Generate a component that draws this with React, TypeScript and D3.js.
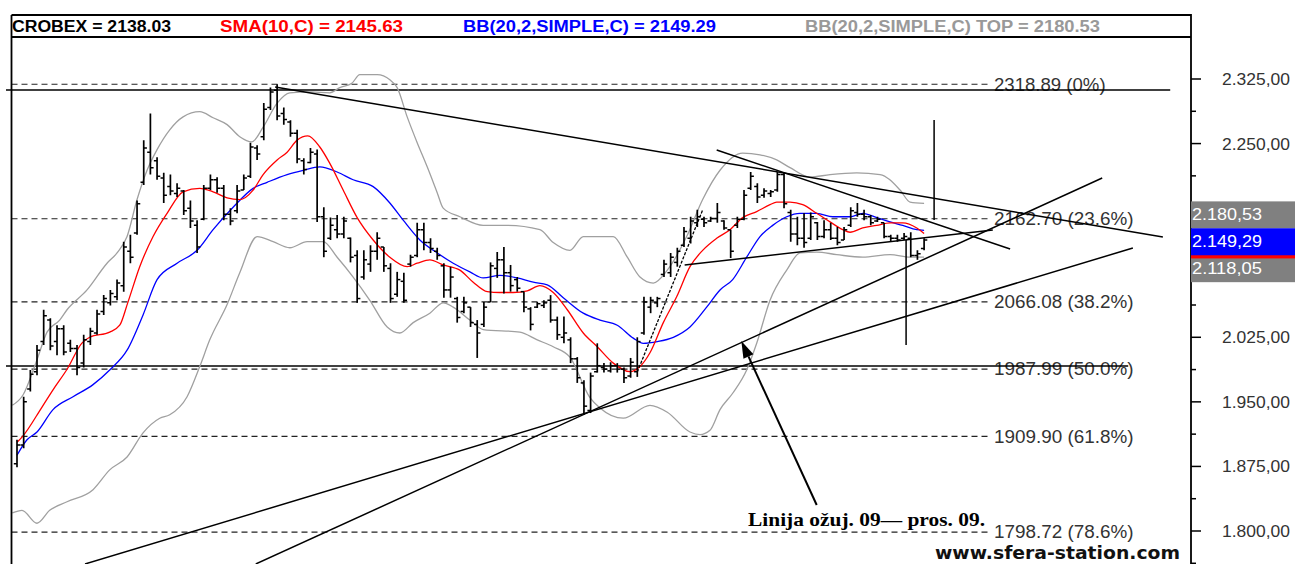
import React from 'react';
import * as d3 from 'd3';

const W = 1295;
const H = 564;

// ---------- OHLC bars (CROBEX) ----------
const barOpen = [
  1878,1900,1965,1985,2020,2045,2020,2035,2018,2012,
  1995,2020,2030,2055,2065,2072,2085,2125,2146,2205,
  2240,2230,2210,2200,2192,2195,2175,2155,2162,2198,
  2208,2198,2168,2172,2196,2212,2245,2258,2292,2312,
  2285,2275,2262,2230,2228,2238,2165,2140,2150,2145,
  2140,2120,2095,2110,2125,2130,2105,2075,2090,2110,
  2120,2150,2135,2125,2108,2080,2070,2055,2060,2040,
  2040,2066,2105,2115,2100,2092,2078,2058,2060,2062,
  2068,2045,2025,2022,2000,1972,1940,1985,1990,1986,
  1992,1988,1980,1985,2030,2060,2065,2098,2100,2112,
  2132,2140,2158,2162,2160,2163,2160,2150,2155,2162,
  2198,2200,2190,2192,2196,2214,2170,2145,2140,2140,
  2158,2142,2150,2140,2138,2155,2170,2168,2165,2160,
  2158,2142,2140,2140,2140,2120,2128,
];
const barHigh = [
  1906,1956,1987,2016,2057,2047,2039,2039,2022,2016,
  2028,2036,2057,2074,2080,2092,2136,2144,2184,2254,
  2285,2234,2216,2214,2204,2196,2184,2161,2202,2214,
  2211,2202,2175,2202,2214,2251,2248,2297,2315,2319,
  2292,2277,2266,2233,2245,2243,2176,2164,2167,2165,
  2141,2126,2126,2132,2147,2130,2111,2101,2100,2121,
  2158,2158,2140,2129,2111,2107,2072,2072,2060,2045,
  2066,2112,2124,2130,2109,2095,2078,2060,2066,2068,
  2074,2049,2049,2025,2002,1975,1984,2018,1995,1996,
  1995,1990,2001,2025,2072,2072,2072,2115,2123,2129,
  2153,2165,2173,2165,2165,2181,2161,2150,2165,2196,
  2217,2204,2198,2196,2217,2216,2173,2165,2169,2170,
  2159,2161,2158,2153,2153,2176,2181,2173,2167,2165,
  2158,2144,2144,2146,2147,2126,2140,
];
const barLow = [
  1874,1896,1962,1981,2016,2010,2004,2004,2008,1981,
  1990,2016,2028,2051,2062,2068,2078,2111,2144,2202,
  2214,2208,2181,2190,2188,2167,2152,2123,2161,2196,
  2193,2161,2155,2169,2196,2210,2231,2254,2289,2277,
  2272,2258,2227,2214,2227,2159,2118,2138,2140,2140,
  2112,2065,2092,2101,2115,2101,2065,2072,2065,2107,
  2118,2126,2123,2115,2071,2071,2042,2053,2037,2001,
  2037,2066,2094,2076,2078,2078,2054,2033,2059,2059,
  2042,2022,2018,1995,1972,1935,1937,1984,1984,1984,
  1984,1972,1978,1979,2028,2053,2060,2095,2095,2107,
  2130,2134,2153,2153,2159,2158,2150,2117,2152,2161,
  2196,2181,2187,2188,2194,2175,2136,2132,2129,2138,
  2138,2140,2138,2132,2138,2153,2165,2161,2155,2159,
  2140,2136,2136,2138,2118,2115,2126,
];
const barClose = [
  1900,1950,1982,2010,2050,2015,2035,2008,2012,1990,
  2022,2032,2052,2070,2076,2088,2130,2118,2180,2245,
  2222,2212,2190,2195,2198,2172,2160,2130,2198,2208,
  2198,2168,2160,2195,2210,2246,2238,2290,2310,2282,
  2278,2262,2232,2220,2240,2165,2125,2155,2145,2160,
  2118,2070,2115,2125,2140,2108,2070,2092,2068,2118,
  2150,2135,2128,2120,2080,2095,2048,2065,2042,2030,
  2060,2108,2115,2100,2085,2082,2060,2040,2064,2065,
  2045,2028,2030,2000,1978,1945,1980,1992,1988,1992,
  1988,1978,1996,2020,2066,2068,2070,2110,2118,2125,
  2148,2160,2165,2158,2163,2170,2152,2125,2162,2190,
  2212,2188,2195,2194,2214,2180,2145,2140,2135,2165,
  2142,2150,2140,2135,2150,2172,2168,2165,2158,2162,
  2142,2140,2138,2142,2120,2122,2138.03,
];

// ---------- indicator lines: [bar index, value] ----------
const sma10Pts: [number, number][] = [
  [0,1903],[0.75,1909],[3.75,1944],[5.4,1964],[7.6,1989],[9.7,2018],[10.9,2025],[13.9,2031],
  [15.4,2039],[16.6,2065],[18.4,2107],[20.4,2142],[22.5,2169],[24.9,2194],[27.4,2198],[29.4,2194],
  [31.5,2187],[33.4,2185],[35.4,2196],[36.9,2214],[39,2231],[40.5,2240],[42,2254],[43.6,2259],
  [45.4,2246],[46.9,2227],[48.9,2196],[51,2164],[53.4,2138],[55.9,2118],[58.5,2107],[60,2111],
  [61.9,2115],[63.9,2109],[66.4,2103],[68.4,2089],[70.5,2078],[72.4,2077],[74.4,2077],[76.5,2079],
  [78.4,2085],[80.4,2077],[82.5,2057],[84.9,2030],[87,2014],[89.4,1995],[91.9,1985],[93.4,1991],
  [94.9,2007],[96.9,2042],[98.9,2072],[100.9,2107],[102.8,2126],[104.9,2140],[106.9,2150],
  [108.8,2164],[110.9,2171],[112.9,2179],[113.9,2182],[115.9,2182],[117.8,2179],[119.9,2169],
  [121.9,2159],[123.8,2150],[124.9,2147],[126.8,2152],[128.9,2155],[130.9,2158],[132.8,2158],
  [134.9,2152],[136,2145.63],
];
const bbMidPts: [number, number][] = [
  [0,1888],[1.5,1906],[3,1915],[5.4,1941],[8.4,1956],[11.4,1970],[13.9,1987],[16.5,2010],
  [18.9,2051],[21,2092],[24,2111],[27,2126],[29.4,2150],[32.4,2176],[35.4,2198],[37.5,2205],
  [40.5,2214],[42.9,2219],[45.4,2223],[48,2217],[50.4,2208],[53.4,2200],[55.9,2181],[57.9,2161],
  [60.4,2138],[63,2123],[65.4,2111],[67.9,2101],[69.9,2094],[72.4,2097],[75,2094],[77.4,2089],
  [79.5,2086],[81.9,2071],[84.9,2053],[87.4,2045],[90,2039],[92.4,2024],[93.9,2018],[96,2020],
  [98.4,2025],[100.9,2037],[103.4,2060],[105.4,2080],[107.3,2092],[109.4,2118],[111.4,2142],
  [113.3,2155],[115.4,2165],[117.4,2169],[119.9,2169],[122.3,2165],[124.9,2165],[126.8,2169],
  [128.9,2164],[130.9,2159],[132.8,2155],[134.9,2150],[136,2149.29],
];
const bbTopPts: [number, number][] = [
  [-0.7,1946],[0.9,1958],[3,1999],[4.5,2031],[6.4,2045],[7.5,2057],[10.5,2080],[13.5,2111],
  [15,2123],[16.5,2142],[18,2185],[19.5,2219],[21,2243],[22.9,2266],[24.9,2281],[27.4,2287],
  [29.4,2280],[31.5,2272],[33.4,2258],[35.2,2252],[36.9,2269],[39,2297],[40.9,2309],[43.9,2310],
  [46.9,2309],[48.4,2315],[50.2,2320],[51.4,2330],[54,2330],[55.9,2324],[57,2315],[58.5,2281],
  [60,2251],[61.5,2223],[63,2193],[63.9,2175],[66.4,2165],[69.9,2155],[73.5,2155],[78.4,2150],
  [80.4,2135],[82.9,2126],[84.9,2142],[89.4,2142],[91.5,2118],[93.4,2095],[95.4,2088],[97.5,2103],
  [100.4,2142],[102.8,2185],[105.4,2219],[108.8,2239],[111.4,2237],[113.9,2231],[115.9,2222],
  [118.9,2211],[121.9,2214],[125.9,2216],[129.4,2214],[132.4,2196],[133.9,2182],[136,2180.53],
];
const bbBotPts: [number, number][] = [
  [-0.7,1821],[0.75,1824],[3,1809],[4.9,1824],[7.5,1834],[11.4,1848],[13.9,1871],[16.5,1886],
  [18.9,1914],[21.4,1931],[22.9,1935],[25.5,1956],[27.4,1991],[28.9,2022],[31.5,2063],[33.4,2100],
  [36,2142],[38.4,2136],[40.9,2129],[43.5,2136],[45.9,2136],[48,2118],[50.4,2095],[52.9,2068],
  [55.5,2037],[57.4,2030],[59.4,2042],[61.9,2053],[63.9,2065],[65.4,2060],[67.9,2045],[69.9,2034],
  [75.4,2031],[78,2022],[80.4,2014],[82.9,2002],[85.9,1955],[87.4,1943],[90.9,1931],[94.9,1946],
  [97.5,1938],[100.9,1915],[102.4,1912],[103.9,1917],[105.4,1941],[107.3,1960],[109.4,1987],
  [110.9,2018],[112.9,2068],[115.4,2103],[117.4,2123],[119.9,2124],[122.9,2121],[126.8,2118],
  [130.9,2121],[133.9,2118],[136,2118.05],
];

// ---------- Fibonacci retracement levels ----------
const fibValues = [2318.89, 2162.7, 2066.08, 1987.99, 1909.9, 1798.72];
const fibLabels = ['2318.89 (0%)', '2162.70 (23.6%)', '2066.08 (38.2%)', '1987.99 (50.0%)', '1909.90 (61.8%)', '1798.72 (78.6%)'];

// ---------- price axis ----------
const axisMajor = [1800, 1875, 1950, 2025, 2100, 2175, 2250, 2325];
// labels for 2.100,00 and 2.175,00 sit under the last-value boxes and are not visible
const axisLabels = ['1.800,00', '1.875,00', '1.950,00', '2.025,00', '', '', '2.250,00', '2.325,00'];
const axisMinor = [1762.5, 1837.5, 1912.5, 1987.5, 2062.5, 2137.5, 2212.5, 2287.5];

// last-value markers on the axis (drawing order matters)
const markerValues = [2180.53, 2118.05, 2145.63, 2149.29];
const markerLabels = ['2.180,53', '2.118,05', '', '2.149,29'];
const markerColors = ['#808080', '#808080', '#ff0000', '#0000ff'];

// header legend
const headerTexts = ['CROBEX = 2138.03', 'SMA(10,C) = 2145.63', 'BB(20,2,SIMPLE,C) = 2149.29', 'BB(20,2,SIMPLE,C) TOP = 2180.53'];
const headerColors = ['#000000', '#ff0000', '#0000ff', '#999999'];

// ---------- drawn lines, in [bar index, price] ----------
const horizLines: [number, number][][] = [
  [[-1.65, 2312.2], [172.9, 2312.2]],
  [[-1.65, 1991.7], [166.6, 1991.7]],
];
const trendLines: [number, number][][] = [
  [[38.7, 2315.7], [171.8, 2141.5]],
  [[104.9, 2242.5], [148.9, 2127.6]],
  [[100.1, 2109], [146.3, 2149.6]],
  [[35.8, 1761.7], [162.7, 2210]],
  [[10.2, 1761.7], [167.3, 2128.7]],
  [[137.5, 2277.4], [137.5, 2161.2]],
  [[133.3, 2138], [133.3, 2016.1]],
];
const rallyLine: [number, number][] = [[93, 1984.7], [102.8, 2172.9]];
const arrowFromTo: [number, number][] = [[119.9, 1830.2], [108.6, 2020.7]];
const noteText = 'Linija ožuj. 09— pros. 09.';
const watermark = 'www.sfera-station.com';

export default function App() {
  const PL = 11.5;
  const PR = 1191;
  const PT = 37;
  const PB = 564;
  const TOP = 15;

  const x = d3.scaleLinear().domain([0, 136]).range([17, 924.1]);
  const y = d3.scaleLinear().domain([1800, 2325]).range([531, 79]);

  const curve = d3
    .line<[number, number]>()
    .x((d) => x(d[0]))
    .y((d) => y(d[1]))
    .curve(d3.curveMonotoneX);
  const straight = d3
    .line<[number, number]>()
    .x((d) => x(d[0]))
    .y((d) => y(d[1]));

  const sans = "'Liberation Sans', Arial, sans-serif";

  // arrow geometry
  const ax1 = x(arrowFromTo[0][0]);
  const ay1 = y(arrowFromTo[0][1]);
  const ax2 = x(arrowFromTo[1][0]);
  const ay2 = y(arrowFromTo[1][1]);
  const ang = Math.atan2(ay2 - ay1, ax2 - ax1);
  const headLen = 17;
  const headHalf = 5.5;
  const bx = ax2 - headLen * Math.cos(ang);
  const by = ay2 - headLen * Math.sin(ang);
  const px = -Math.sin(ang);
  const py = Math.cos(ang);
  const headPts = `${ax2},${ay2} ${bx + px * headHalf},${by + py * headHalf} ${bx - px * headHalf},${by - py * headHalf}`;

  const headerX = [12, 220, 463, 805];
  const headerW = [159, 183, 253, 295];

  return (
    <svg
      width={W}
      height={H}
      style={{ position: 'absolute', left: 0, top: 0, display: 'block' }}
      xmlns="http://www.w3.org/2000/svg"
    >
      <defs>
        <clipPath id="plotClip">
          <rect x={0} y={PT} width={PR} height={PB - PT} />
        </clipPath>
        <clipPath id="innerClip">
          <rect x={PL} y={PT} width={PR - PL} height={PB - PT} />
        </clipPath>
      </defs>
      <rect x={0} y={0} width={W} height={H} fill="#ffffff" />

      {/* Fibonacci dashed levels */}
      <g clipPath="url(#innerClip)">
        {fibValues.map((v, k) => (
          <line key={'f' + k} x1={PL} x2={988} y1={y(v)} y2={y(v)} stroke="#222" strokeWidth={1.1} strokeDasharray="6 4" />
        ))}
      </g>
      {fibValues.map((v, k) => (
        <text key={'fl' + k} x={994} y={y(v)} dy="0.36em" fontFamily={sans} fontSize={17.5} fill="#333" textLength={fibLabels[k].length * 9.3} lengthAdjust="spacingAndGlyphs">
          {fibLabels[k]}
        </text>
      ))}

      {/* horizontal solid lines */}
      <g clipPath="url(#plotClip)">
        {horizLines.map((l, k) => (
          <path key={'h' + k} d={straight(l) || ''} stroke="#000" strokeWidth={1.6} fill="none" />
        ))}
      </g>

      {/* indicator lines */}
      <g clipPath="url(#innerClip)" fill="none">
        <path d={curve(bbTopPts) || ''} stroke="#a0a0a0" strokeWidth={1.3} />
        <path d={curve(bbBotPts) || ''} stroke="#a0a0a0" strokeWidth={1.3} />
        <path d={curve(bbMidPts) || ''} stroke="#0000ff" strokeWidth={1.3} />
        <path d={curve(sma10Pts) || ''} stroke="#ff0000" strokeWidth={1.3} />
      </g>

      {/* OHLC bars */}
      <g stroke="#000" clipPath="url(#innerClip)">
        {barClose.map((c, i) => {
          const cx = x(i);
          return (
            <g key={'b' + i}>
              <line x1={cx} x2={cx} y1={y(barHigh[i])} y2={y(barLow[i])} strokeWidth={1.7} />
              <line x1={cx - 3.2} x2={cx} y1={y(barOpen[i])} y2={y(barOpen[i])} strokeWidth={1.5} />
              <line x1={cx} x2={cx + 3.2} y1={y(c)} y2={y(c)} strokeWidth={1.5} />
            </g>
          );
        })}
      </g>

      {/* trend lines */}
      <g clipPath="url(#plotClip)" fill="none" stroke="#000">
        {trendLines.map((l, k) => (
          <path key={'t' + k} d={straight(l) || ''} strokeWidth={1.5} />
        ))}
        <path d={straight(rallyLine) || ''} strokeWidth={1.3} strokeDasharray="3 1.5" />
      </g>

      {/* arrow annotation */}
      <line x1={ax1} y1={ay1} x2={bx} y2={by} stroke="#000" strokeWidth={2} />
      <polygon points={headPts} fill="#000" />
      <text x={748} y={526} fontFamily="'Liberation Serif', 'Times New Roman', serif" fontWeight="bold" fontSize={19} fill="#000" textLength={237} lengthAdjust="spacingAndGlyphs">
        {noteText}
      </text>

      {/* watermark */}
      <text x={935} y={559} fontFamily="'DejaVu Sans', Verdana, sans-serif" fontWeight="bold" fontSize={18} fill="#111" textLength={245} lengthAdjust="spacingAndGlyphs">
        {watermark}
      </text>

      {/* frame */}
      <line x1={PL} x2={PR} y1={TOP} y2={TOP} stroke="#000" strokeWidth={2.2} />
      <line x1={PL} x2={PR} y1={PT} y2={PT} stroke="#000" strokeWidth={1.8} />
      <line x1={PL} x2={PL} y1={TOP} y2={PB} stroke="#000" strokeWidth={1.8} />
      <line x1={PR} x2={PR} y1={TOP - 1} y2={PB} stroke="#000" strokeWidth={1.8} />

      {/* header legend */}
      {headerTexts.map((t, k) => (
        <text key={'hd' + k} x={headerX[k]} y={31.5} fontFamily={sans} fontWeight="bold" fontSize={16} fill={headerColors[k]} textLength={headerW[k]} lengthAdjust="spacingAndGlyphs">
          {t}
        </text>
      ))}

      {/* price axis */}
      {axisMajor.map((v, k) => (
        <g key={'am' + k}>
          <line x1={PR} x2={PR + 10} y1={y(v)} y2={y(v)} stroke="#000" strokeWidth={1.5} />
          {axisLabels[k] && (
            <text x={1222} y={y(v)} dy="0.36em" fontFamily={sans} fontSize={16.5} fill="#333" textLength={68} lengthAdjust="spacingAndGlyphs">
              {axisLabels[k]}
            </text>
          )}
        </g>
      ))}
      {axisMinor.map((v, k) => (
        <line key={'an' + k} x1={PR} x2={PR + 5} y1={y(v)} y2={y(v)} stroke="#000" strokeWidth={1.5} />
      ))}

      {/* last value markers */}
      {markerValues.map((v, k) => (
        <g key={'mk' + k}>
          <rect x={PR} y={y(v) - 2} width={W - PR} height={27} fill={markerColors[k]} />
          {markerLabels[k] && (
            <text x={PR + 1} y={y(v) + 17} fontFamily={sans} fontSize={16.5} fill="#ffffff" textLength={70} lengthAdjust="spacingAndGlyphs">
              {markerLabels[k]}
            </text>
          )}
        </g>
      ))}
    </svg>
  );
}
